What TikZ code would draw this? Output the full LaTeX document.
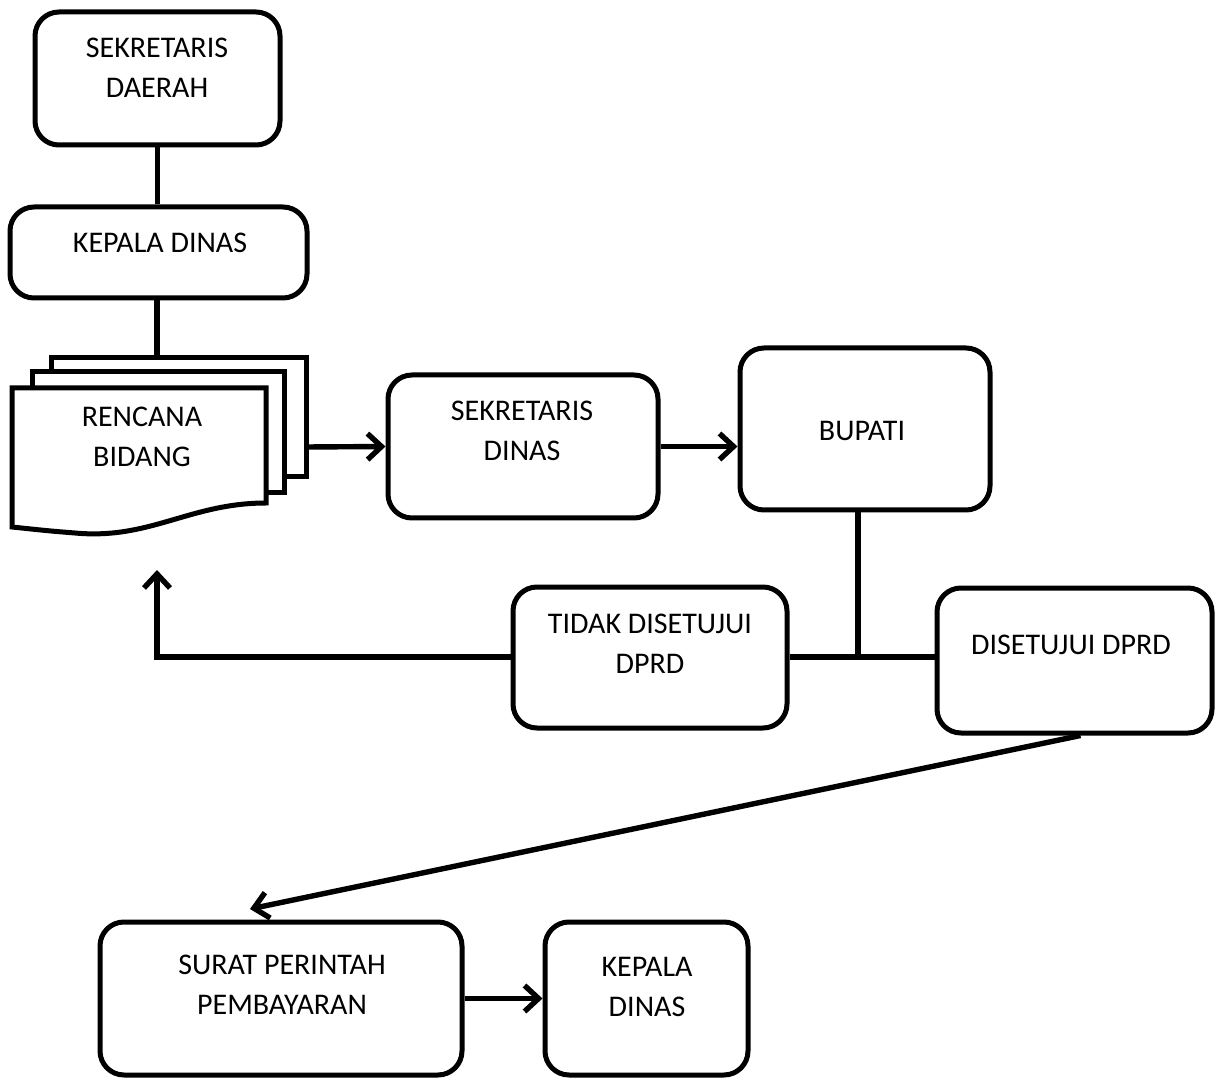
\documentclass[tikz,border=0pt]{standalone}
\usepackage{fontspec}
\setmainfont{Carlito}
\usetikzlibrary{arrows.meta}

\begin{document}
\begin{tikzpicture}[x=0.5pt,y=-0.5pt,
  box/.style={draw,rounded corners=12pt,line width=2.5pt,fill=white,inner sep=0pt},
  txt/.style={align=center,font=\fontsize{15}{20}\selectfont},
  page/.style={draw,line width=2.5pt,fill=white},
  conn/.style={line width=2.7pt},
  arr/.style={conn,-{Straight Barb[length=7pt,width=13pt,line width=2.7pt]}}]
  \useasboundingbox (0,0) rectangle (1216,1080);

  % boxes
  \node[box,minimum width=122.5pt,minimum height=66.5pt] (sekda) at (157.5,78.5) {};
  \node[txt] (sekda-t) at (157,68) {SEKRETARIS\\DAERAH};
  \node[box,minimum width=148.5pt,minimum height=45.5pt] (kadis) at (158.5,252.5) {};
  \node[txt] (kadis-t) at (160,243) {KEPALA DINAS};
  \node[box,minimum width=135pt,minimum height=71.5pt] (sekdin) at (523,446.5) {};
  \node[txt] (sekdin-t) at (522,431) {SEKRETARIS\\DINAS};
  \node[box,minimum width=125pt,minimum height=81pt] (bupati) at (865,429) {};
  \node[txt] (bupati-t) at (862,431) {BUPATI};
  \node[box,minimum width=137pt,minimum height=70.5pt] (tidak) at (650,657.5) {};
  \node[txt] (tidak-t) at (650,644) {TIDAK DISETUJUI\\DPRD};
  \node[box,minimum width=137.5pt,minimum height=72.5pt] (setuju) at (1074.5,660.5) {};
  \node[txt] (setuju-t) at (1071,645) {DISETUJUI DPRD};
  \node[box,minimum width=181pt,minimum height=76.5pt] (spp) at (281,998.5) {};
  \node[txt] (spp-t) at (282,985) {SURAT PERINTAH\\PEMBAYARAN};
  \node[box,minimum width=101.5pt,minimum height=76.5pt] (kadis2) at (646.5,998.5) {};
  \node[txt] (kadis2-t) at (647,987) {KEPALA\\DINAS};

  % rencana bidang (stacked pages)
  \draw[page] (51,358) rectangle (306,477);
  \draw[page] (32,372) rectangle (284,493);
  \draw[page] (12,388) -- (266,388) -- (266,503)
    .. controls (190,503) and (150,540) .. (75,533)
    .. controls (50,531) .. (12,527) -- cycle;
  \node[txt] (rb) at (142,437) {RENCANA\\BIDANG};
  \coordinate (rb-top) at (157,358);
  \coordinate (rb-out) at (306,447);
  \coordinate (rb-in) at (157,570);
  \coordinate (jn) at (858,657);
  \coordinate (spp-in) at (250,909);

  % connectors
  \draw[conn] (sekda.south) -- (sekda.south |- kadis.north);
  \draw[conn] (kadis.south -| rb-top) -- (rb-top);
  \draw[arr] (rb-out) -- (sekdin.west);
  \draw[arr] (sekdin.east) -- (sekdin.east -| bupati.west);
  \draw[conn] (bupati.south -| jn) -- (jn);
  \draw[conn] (tidak.east |- jn) -- (setuju.west |- jn);
  \draw[arr] (tidak.west |- jn) -| (rb-in);
  \draw[arr] ([xshift=3pt]setuju.south) -- (spp-in);
  \draw[arr] (spp.east) -- (kadis2.west);
\end{tikzpicture}
\end{document}
